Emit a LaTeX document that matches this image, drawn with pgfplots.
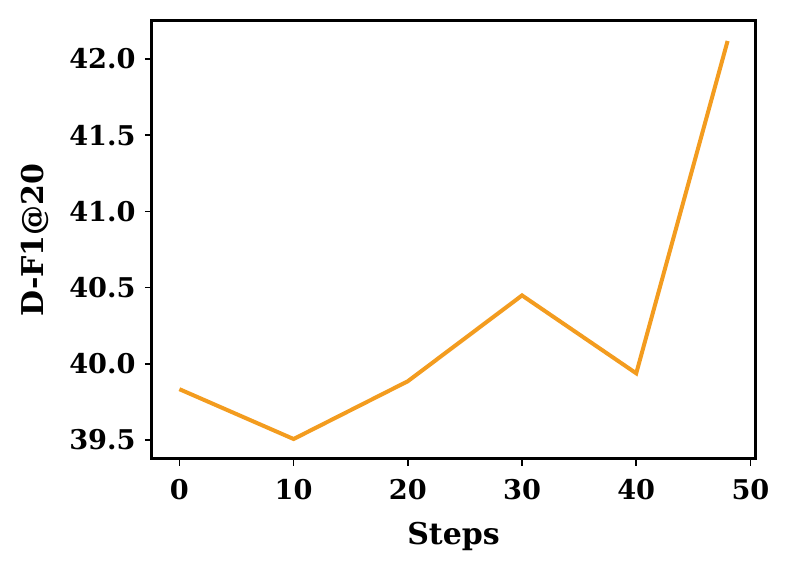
\documentclass[border=0pt]{standalone}
\usepackage{fontspec}
\setmainfont{DejaVu Serif}
\usepackage{pgfplots}
\pgfplotsset{compat=1.18}
\definecolor{lineor}{HTML}{F39C1F}
\begin{document}
\fontsize{13.6}{16}\selectfont\bfseries
\begin{tikzpicture}
\begin{axis}[
  name=ax,
  scale only axis,
  width=301.5pt, height=219pt,
  xmin=-2.4, xmax=50.4,
  ymin=39.376, ymax=42.249,
  xtick={0,10,20,30,40,50},
  ytick={39.5,40,40.5,41,41.5,42},
  /pgf/number format/assume math mode=true,
  xticklabel style={/pgf/number format/fixed, yshift=-2pt},
  yticklabel style={/pgf/number format/fixed,/pgf/number format/fixed zerofill,/pgf/number format/precision=1},
  tick align=outside,
  major tick length=3.5pt,
  tick style={black, line width=0.75pt},
  axis line style={line width=1.5pt},
  tick pos=left,
  xlabel={Steps},
  ylabel={D-F1@20},
  xlabel style={yshift=-2pt},
  ylabel style={yshift=1pt},
  every tick label/.append style={font=\fontsize{13.6}{16}\selectfont\bfseries},
  label style={font=\fontsize{15}{17}\selectfont\bfseries},
]
\addplot[lineor, line width=2pt] coordinates {
  (0,39.834) (10,39.507) (20,39.886) (30,40.449) (40,39.938) (48,42.118)
};
\end{axis}
\pgfresetboundingbox
\path[use as bounding box] ([xshift=-76pt,yshift=-56pt]ax.south west) rectangle ([xshift=19pt,yshift=10.5pt]ax.north east);
\end{tikzpicture}
\end{document}
